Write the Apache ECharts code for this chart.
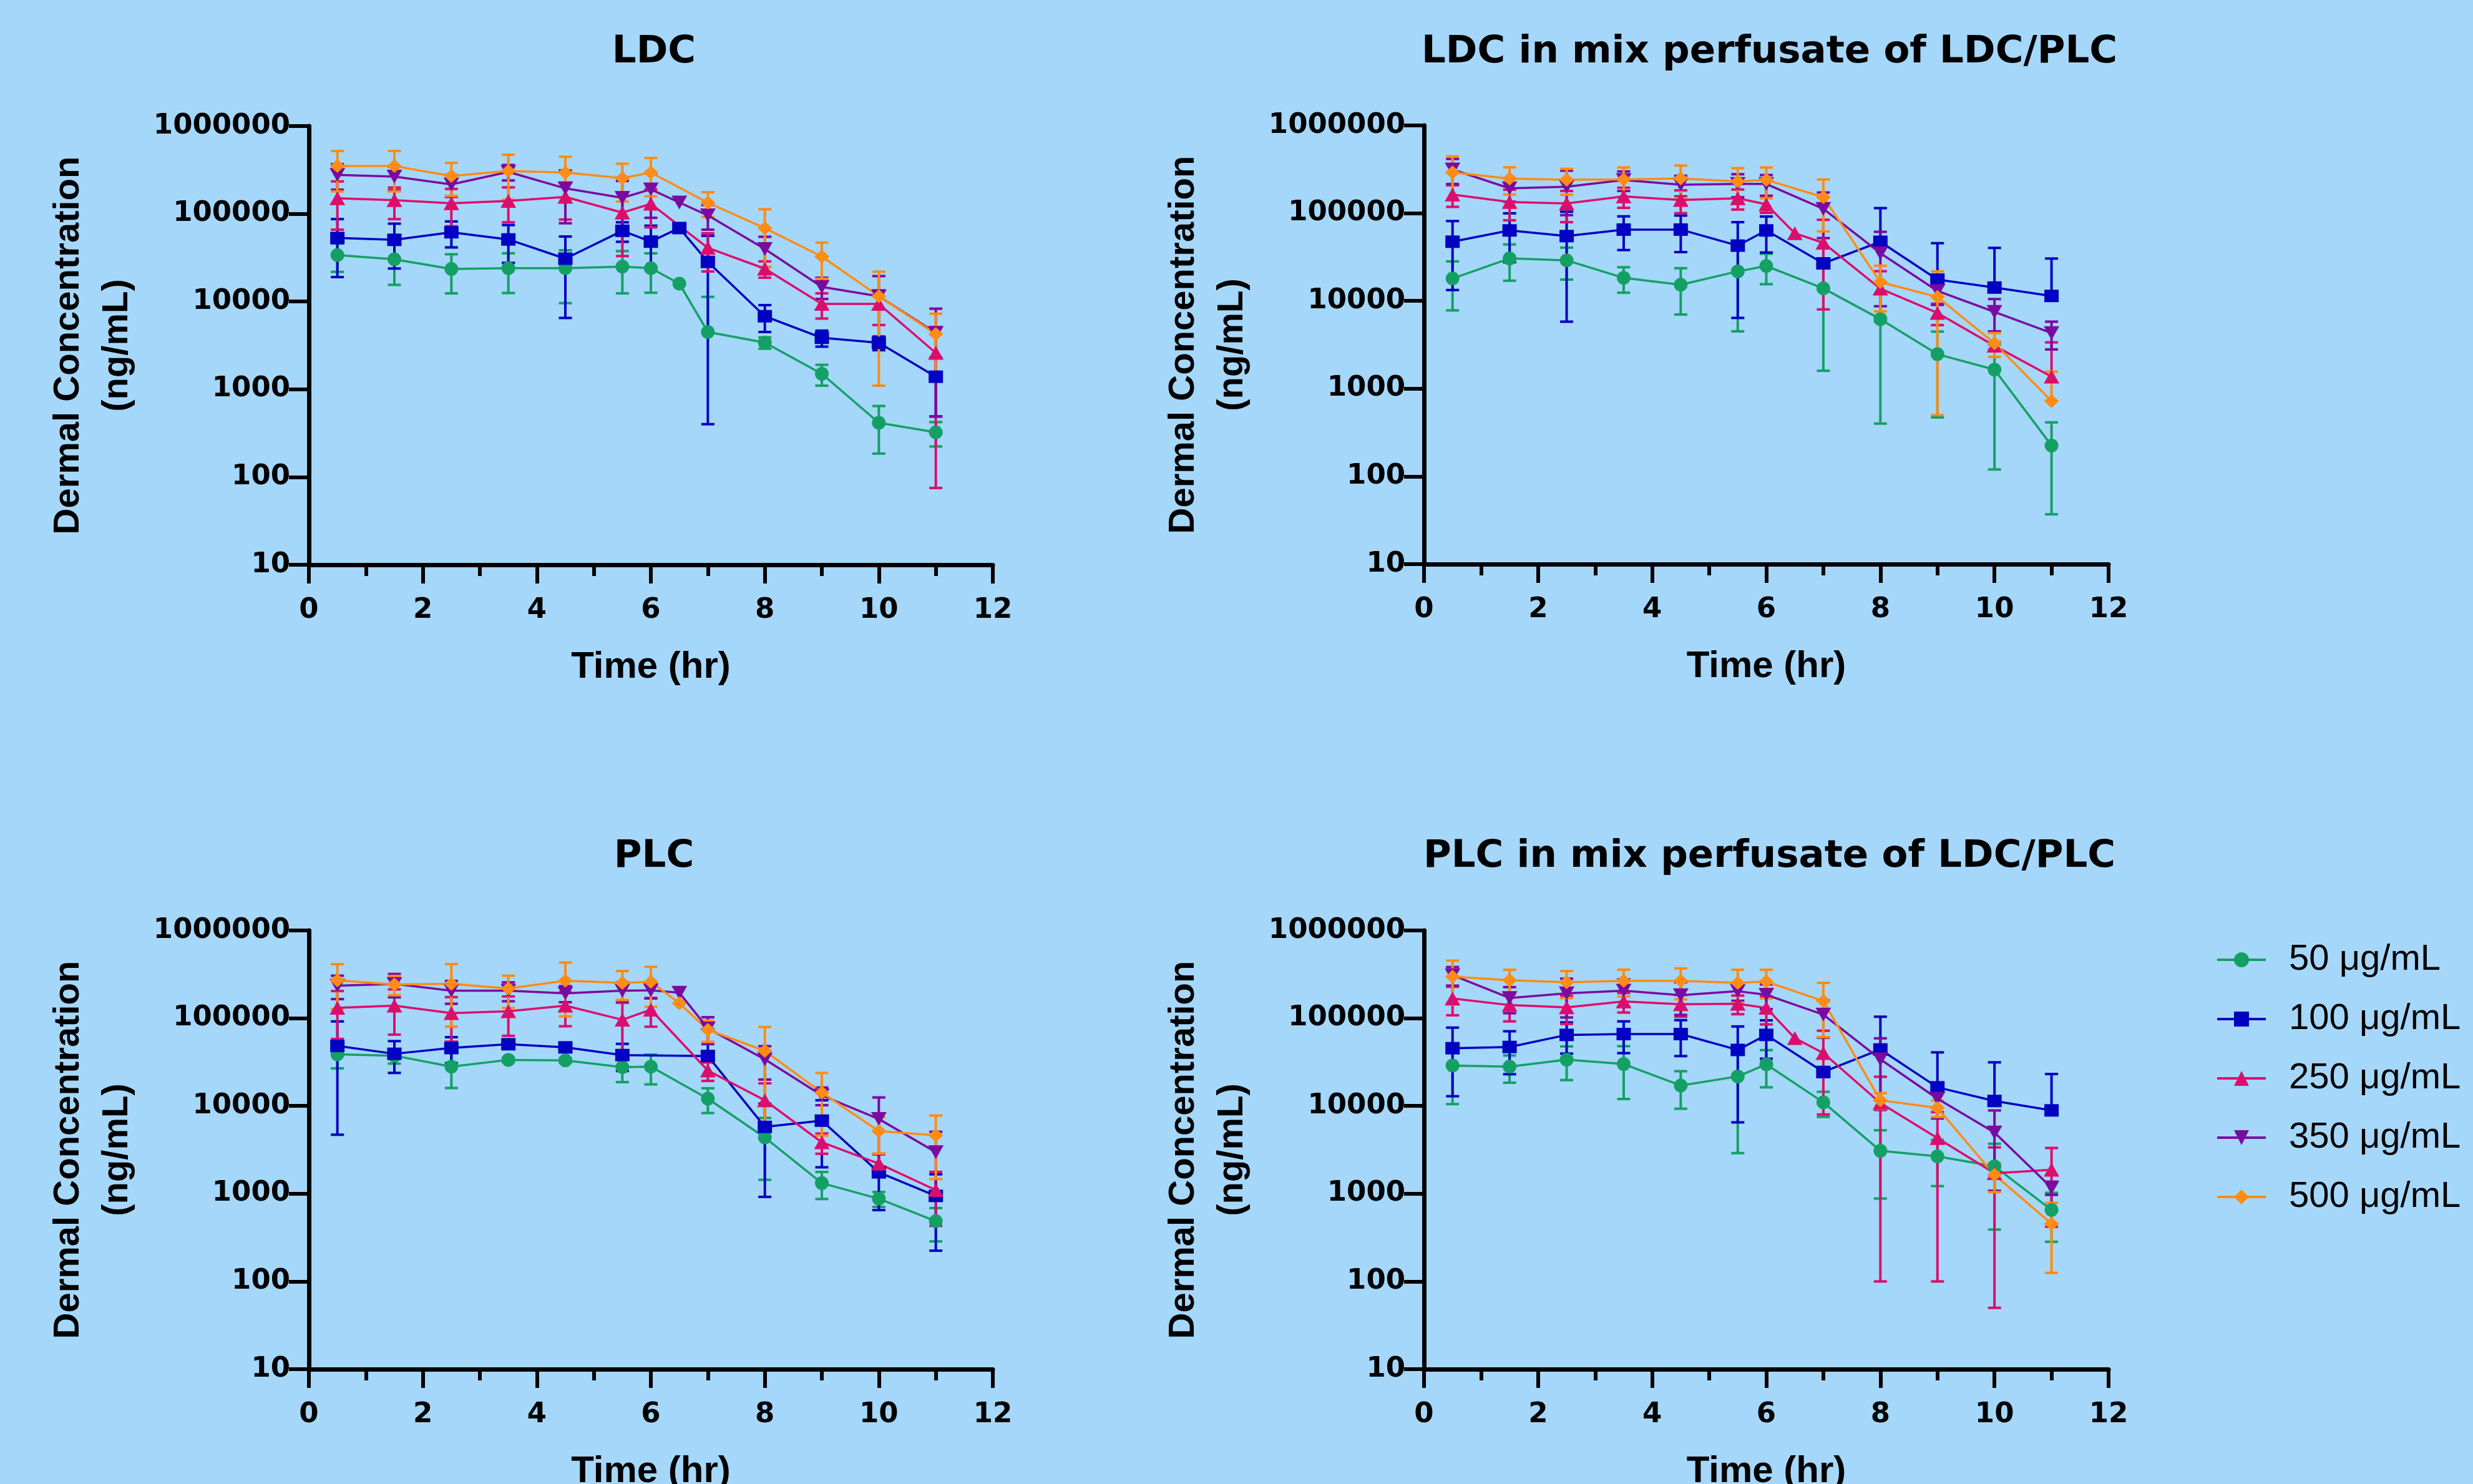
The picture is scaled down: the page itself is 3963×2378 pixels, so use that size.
<!DOCTYPE html>
<html>
<head>
<meta charset="utf-8">
<script src="https://cdn.jsdelivr.net/npm/echarts@6/dist/echarts.min.js"></script>
<style>
  html, body { margin: 0; padding: 0; background: #a5d7fa; }
  #main { width: 3963px; height: 2378px; }
</style>
</head>
<body>
<div id="main"></div>
<script>
// sampling times (hr), shared by every panel; null = no point at that time
const times = [0.5, 1.5, 2.5, 3.5, 4.5, 5.5, 6, 6.5, 7, 8, 9, 10, 11];
const doses = ["50 μg/mL", "100 μg/mL", "250 μg/mL", "350 μg/mL", "500 μg/mL"];
const panelTitles = ["LDC", "LDC in mix perfusate of LDC/PLC", "PLC", "PLC in mix perfusate of LDC/PLC"];
const yTickLabels = ["10", "100", "1000", "10000", "100000", "1000000"];
const xTickLabels = ["0", "2", "4", "6", "8", "10", "12"];

// mean values, one row per dose (50, 100, 250, 350, 500)
const ldcMean = [
  [33800, 30300, 23500, 24000, 24000, 25000, 24000, 16000, 4500, 3400, 1500, 415, 323],
  [53000, 50500, 61600, 51000, 30800, 64000, 48200, 68800, 28300, 6800, 3860, 3390, 1390],
  [150000, 143000, 132000, 140000, 156000, 103000, 130000, null, 41000, 23700, 9400, 9400, 2600],
  [278000, 265000, 216000, 300000, 195000, 152000, 190000, 134500, 96000, 39700, 14700, 11500, 4390],
  [350000, 350000, 270000, 308000, 295000, 255000, 295000, null, 134000, 68600, 32600, 11500, 4260]
];
const ldcSd = [
  [12000, 14800, 11100, 11500, 14400, 12600, 11400, 0, 6800, 500, 400, 230, 100],
  [34000, 26700, 20200, 23400, 24300, 16000, 25000, 0, 27900, 2300, 800, 600, 900],
  [84000, 56000, 60000, 60000, 70000, 70000, 60000, 0, 19000, 5000, 3000, 4000, 2525],
  [90000, 80000, 60000, 60000, 117000, 85000, 100000, 0, 30000, 15000, 4000, 8000, 3900],
  [170000, 170000, 110000, 163000, 152000, 117000, 137000, 0, 42000, 44000, 14400, 10400, 3000]
];

const ldcMixMean = [
  [18000, 30500, 29000, 18300, 15300, 21700, 25000, null, 13900, 6200, 2470, 1650, 225],
  [47300, 63600, 54800, 65000, 65000, 42700, 63600, null, 26800, 47200, 17500, 14200, 11400],
  [163000, 134000, 129000, 155000, 141000, 148000, 126000, 59000, 46000, 13800, 7300, 3080, 1370],
  [315000, 192000, 200000, 239000, 211000, 215000, 215000, null, 112000, 35000, 13000, 7500, 4300],
  [292000, 248000, 241000, 243000, 249000, 230000, 240000, null, 152000, 16400, 11100, 3300, 721]
];
const ldcMixSd = [
  [10200, 13500, 11500, 5900, 8300, 17200, 9500, 0, 12300, 5800, 2000, 1530, 188],
  [34000, 36000, 49000, 27000, 29000, 36300, 28000, 0, 3000, 67000, 28000, 26000, 19000],
  [45000, 51000, 50000, 40000, 41000, 38000, 25000, 0, 38000, 8000, 2000, 300, 2000],
  [100000, 57000, 105000, 60000, 56000, 63000, 57000, 0, 60000, 26300, 4000, 3000, 1500],
  [151000, 85000, 79000, 89000, 100000, 96000, 92000, 0, 90000, 8800, 10600, 1000, 840]
];

const plcMean = [
  [38800, 37400, 28000, 33500, 33000, 27700, 28000, null, 12100, 4370, 1320, 877, 486],
  [48300, 39300, 45800, 50500, 46500, 38000, null, null, 37100, 5770, 6800, 1750, 944],
  [131000, 139000, 114000, 120000, 139000, 96000, 125000, null, 25300, 11600, 3850, 2200, 1100],
  [235000, 246000, 206000, 206000, 192000, 206000, 208000, 195000, 76600, 34000, 13200, 7100, 2970],
  [270000, 243000, 247000, 218000, 268000, 253000, 260000, 148000, 73800, 42400, 14200, 5170, 4620]
];
const plcSd = [
  [12000, 7000, 12000, 2000, 2000, 9000, 10400, 0, 3800, 2930, 450, 170, 200],
  [43600, 15500, 15000, 5000, 5000, 13000, 0, 0, 38000, 4850, 4800, 1100, 720],
  [73000, 74000, 60000, 57000, 58000, 54000, 45000, 0, 6000, 6500, 1000, 600, 670],
  [70000, 73000, 60000, 50000, 40000, 50000, 40000, 0, 26000, 14000, 3000, 5400, 2100],
  [143000, 60000, 167000, 87000, 163000, 92000, 125000, 0, 20000, 37000, 9600, 2300, 3150]
];

const plcMixMean = [
  [28900, 28000, 33700, 30000, 17100, 21700, 29800, null, 11000, 3080, 2660, 2050, 653],
  [45500, 47000, 64500, 66000, 66000, 43500, 64500, null, 24400, 44000, 16300, 11400, 8900],
  [168000, 141000, 133000, 155000, 144000, 146000, 131000, 59300, 40000, 10800, 4300, 1710, 1870],
  [309000, 170000, 192000, 206000, 183000, 203000, 185000, null, 110000, 34000, 12100, 4980, 1170],
  [298000, 271000, 257000, 267000, 267000, 253000, 262000, null, 157000, 11600, 9500, 1640, 455]
];
const plcMixSd = [
  [18400, 9600, 14000, 18000, 7800, 18800, 13500, 0, 3500, 2200, 1440, 1660, 370],
  [32600, 24000, 25000, 26000, 29000, 37000, 30000, 0, 3000, 60000, 24500, 20000, 14200],
  [60000, 49000, 47000, 39000, 40000, 35000, 46000, 0, 32000, 10700, 4200, 1660, 1450],
  [74000, 56000, 90000, 71000, 74000, 45000, 58000, 0, 50000, 25000, 4900, 3900, 200],
  [155000, 85000, 88000, 90000, 103000, 103000, 94000, 0, 96000, 2400, 2000, 600, 330]
];

const panelMeans = [ldcMean, ldcMixMean, plcMean, plcMixMean];
const panelSds = [ldcSd, ldcMixSd, plcSd, plcMixSd];

const colors = ["#14a064", "#0202c2", "#dc0e6c", "#7a0aa0", "#ff8c14"];
const symbols = ["circle", "rect", "triangle", "triangle", "diamond"];
const symbolSizes = [22, [23, 20], [25, 22], [25, 22], [24, 22]];
const symbolRotates = [0, 0, 0, 180, 0];

const grids = [
  { left: 495, top: 202, width: 1096, height: 703 },
  { left: 2282, top: 201, width: 1097, height: 703 },
  { left: 495, top: 1491, width: 1096, height: 703 },
  { left: 2282, top: 1491, width: 1097, height: 703 }
].map((g) => Object.assign(g, { outerBoundsMode: "none", containLabel: false }));

const boldText = "DejaVu Sans";
const plainText = "Liberation Sans";

function errorRenderer(color) {
  return function (params, api) {
    const x = api.value(0);
    const m = api.value(1);
    const s = api.value(2);
    if (!s) return;
    const hi = api.coord([x, m + s]);
    const mid = api.coord([x, m]);
    const lo = m - s > 0 ? api.coord([x, m - s]) : null;
    const cw = 10.5;
    const style = { stroke: color, lineWidth: 4 };
    const end = lo || mid;
    const children = [
      { type: "line", shape: { x1: hi[0], y1: hi[1], x2: end[0], y2: end[1] }, style: style },
      { type: "line", shape: { x1: hi[0] - cw, y1: hi[1], x2: hi[0] + cw, y2: hi[1] }, style: style }
    ];
    if (lo) {
      children.push({ type: "line", shape: { x1: lo[0] - cw, y1: lo[1], x2: lo[0] + cw, y2: lo[1] }, style: style });
    }
    return { type: "group", children: children };
  };
}

const xAxes = [];
const yAxes = [];
const titles = [];
const series = [];

grids.forEach((g, p) => {
  titles.push({
    text: panelTitles[p],
    left: g.left + g.width / 2,
    top: p < 2 ? 49 : 1338,
    textAlign: "center",
    textStyle: { fontFamily: boldText, fontWeight: "bold", fontSize: 61, color: "#000" }
  });

  xAxes.push({
    type: "value",
    gridIndex: p,
    min: 0,
    max: 12,
    interval: 2,
    name: "Time (hr)",
    nameLocation: "middle",
    nameGap: 134,
    nameTextStyle: { fontFamily: plainText, fontWeight: "bold", fontSize: 60, color: "#000" },
    axisLine: { lineStyle: { color: "#000", width: 7 } },
    axisTick: { length: 30, lineStyle: { color: "#000", width: 6 } },
    minorTick: { show: true, splitNumber: 2, length: 18, lineStyle: { color: "#000", width: 6 } },
    splitLine: { show: false },
    axisLabel: {
      margin: 51,
      fontFamily: boldText,
      fontWeight: "bold",
      fontSize: 45,
      color: "#000",
      formatter: (v) => xTickLabels[Math.round(v / 2)]
    }
  });

  yAxes.push({
    type: "log",
    logBase: 10,
    gridIndex: p,
    min: 10,
    max: 1000000,
    name: "Dermal Concentration\n(ng/mL)",
    nameLocation: "middle",
    nameRotate: 90,
    nameGap: 268,
    nameTextStyle: {
      fontFamily: plainText, fontWeight: "bold", fontSize: 58, color: "#000",
      lineHeight: 78, align: "center"
    },
    axisLine: { lineStyle: { color: "#000", width: 7 } },
    axisTick: { length: 32, lineStyle: { color: "#000", width: 6 } },
    splitLine: { show: false },
    axisLabel: {
      margin: 30,
      fontFamily: boldText,
      fontWeight: "bold",
      fontSize: 45,
      color: "#000",
      formatter: (v) => yTickLabels[Math.round(Math.log10(v)) - 1]
    }
  });

  const means = panelMeans[p];
  const sds = panelSds[p];
  doses.forEach((dose, d) => {
    const pts = [];
    const errs = [];
    times.forEach((t, i) => {
      const m = means[d][i];
      if (m === null) return;
      pts.push([t, m]);
      errs.push([t, m, sds[d][i]]);
    });
    series.push({
      type: "custom",
      name: dose + " sd",
      xAxisIndex: p,
      yAxisIndex: p,
      renderItem: errorRenderer(colors[d]),
      encode: { x: 0, y: 1 },
      data: errs,
      silent: true,
      z: 2
    });
    series.push({
      type: "line",
      name: dose,
      xAxisIndex: p,
      yAxisIndex: p,
      data: pts,
      symbol: symbols[d],
      symbolSize: symbolSizes[d],
      symbolRotate: symbolRotates[d],
      showAllSymbol: true,
      itemStyle: { color: colors[d] },
      lineStyle: { color: colors[d], width: 3.5 },
      animation: false,
      z: 3
    });
  });
});

const chart = echarts.init(document.getElementById("main"));
chart.setOption({
  backgroundColor: "#a5d7fa",
  animation: false,
  title: titles,
  grid: grids,
  xAxis: xAxes,
  yAxis: yAxes,
  legend: {
    data: doses,
    orient: "vertical",
    left: 3546,
    top: 1504,
    itemWidth: 78,
    itemHeight: 30,
    itemGap: 37,
    lineStyle: { width: 4 },
    textStyle: { fontFamily: plainText, fontSize: 58, color: "#000", padding: [0, 0, 0, 32] }
  },
  series: series
});
</script>
</body>
</html>
